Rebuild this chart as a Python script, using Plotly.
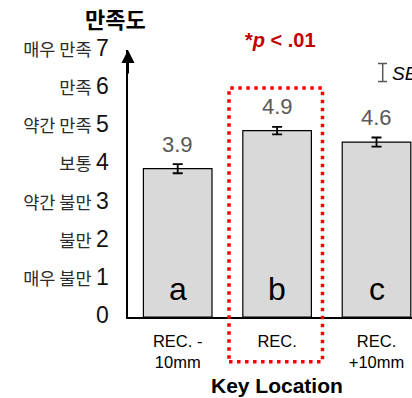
import plotly.graph_objects as go

categories = ["REC. -<br>10mm", "REC.", "REC.<br>+10mm"]
values = [3.9, 4.9, 4.6]
errors = [0.12, 0.10, 0.12]
bar_letters = ["a", "b", "c"]
value_labels = ["3.9", "4.9", "4.6"]
y_tickvals = [0, 1, 2, 3, 4, 5, 6, 7]
y_words = ["", "매우 불만", "불만", "약간 불만", "보통", "약간 만족", "만족", "매우 만족"]

W, H = 412, 398
PLOT_BOTTOM = 316.7  # px from top
L, R, T = 128, 0, 50
B = H - PLOT_BOTTOM
pw, ph = W - L - R, H - T - B

def px(x):
    return (x - L) / pw

def py(y):
    return (PLOT_BOTTOM - y) / ph

FONT = "Liberation Sans, Arial, Noto Sans CJK KR, sans-serif"
KFONT = "Noto Sans CJK KR"

ticktext = []
for v, w in zip(y_tickvals, y_words):
    num = f"<span style='font-size:23px'>{v}</span>"
    if w:
        ticktext.append(f"<span style='font-family:{KFONT};font-size:17.5px;color:#2b2b2b'>{w}</span> " + num)
    else:
        ticktext.append(num)

fig = go.Figure()
fig.add_trace(go.Bar(
    x=list(range(len(categories))), y=values,
    marker=dict(color="#D9D9D9", line=dict(color="#000000", width=1.2)),
    error_y=dict(type="data", array=errors, visible=True, color="#000000", thickness=1.8, width=5),
    width=0.69, showlegend=False, hoverinfo="skip",
))

annotations = []
for i, (v, e, lab) in enumerate(zip(values, errors, value_labels)):
    annotations.append(dict(x=i, y=v, xref="x", yref="y", text=lab, showarrow=False,
                            yanchor="bottom", yshift=10,
                            font=dict(family=FONT, size=22, color="#595959")))
for i, letter in enumerate(bar_letters):
    annotations.append(dict(x=i, y=0, xref="x", yref="y", text=letter, showarrow=False,
                            yanchor="bottom", yshift=8,
                            font=dict(family=FONT, size=32, color="#000000")))

# axis arrow
annotations.append(dict(x=0, y=7.02, xref="paper", yref="y", ax=0, ay=25, text="",
                        showarrow=True, arrowhead=2, arrowsize=1.3, arrowwidth=2, arrowcolor="#000000"))
annotations.append(dict(x=px(115), y=py(18), xref="paper", yref="paper", text="<b>만족도</b>",
                        showarrow=False, xanchor="center", yanchor="middle",
                        font=dict(family=KFONT, size=22, color="#000000")))
annotations.append(dict(x=px(280), y=py(40), xref="paper", yref="paper",
                        text="<b>*<i>p</i> < .01</b>", showarrow=False,
                        xanchor="center", yanchor="middle",
                        font=dict(family=FONT, size=20, color="#C00000")))
annotations.append(dict(x=px(277), y=py(385), xref="paper", yref="paper",
                        text="<b>Key Location</b>", showarrow=False,
                        xanchor="center", yanchor="middle",
                        font=dict(family=FONT, size=21, color="#000000")))
annotations.append(dict(x=px(390), y=py(73), xref="paper", yref="paper",
                        text="<i>SE</i>", showarrow=False,
                        xanchor="left", yanchor="middle",
                        font=dict(family=FONT, size=19, color="#000000")))

shapes = [
    dict(type="rect", xref="paper", yref="paper", x0=px(229), x1=px(322.5), y0=py(361.5), y1=py(88),
         line=dict(color="#FF0000", width=3.5, dash="3.5px,4.5px"), layer="above"),
    dict(type="line", xref="paper", yref="paper", x0=px(382.7), x1=px(382.7), y0=py(63.5), y1=py(81.5),
         line=dict(color="#595959", width=1.5)),
    dict(type="line", xref="paper", yref="paper", x0=px(378), x1=px(387), y0=py(63.5), y1=py(63.5),
         line=dict(color="#595959", width=1.5)),
    dict(type="line", xref="paper", yref="paper", x0=px(378), x1=px(387), y0=py(81.5), y1=py(81.5),
         line=dict(color="#595959", width=1.5)),
]

fig.update_layout(
    width=W, height=H,
    margin=dict(l=L, r=R, t=T, b=B, pad=0),
    paper_bgcolor="white", plot_bgcolor="white",
    font=dict(family=FONT, size=16, color="#111111"),
    bargap=0.31,
    xaxis=dict(tickmode="array", tickvals=list(range(len(categories))), ticktext=categories,
               range=[-0.5, 2.357], showline=True, linecolor="#000000", linewidth=2,
               showgrid=False, zeroline=False, ticks="", ticklabelstandoff=8,
               tickfont=dict(family=FONT, size=16.5, color="#000000")),
    yaxis=dict(tickmode="array", tickvals=y_tickvals, ticktext=ticktext,
               range=[0, 7.02], showline=True, linecolor="#000000", linewidth=2,
               showgrid=False, zeroline=False, ticks="", ticklabelstandoff=14,
               tickfont=dict(family=FONT, size=16, color="#111111")),
    annotations=annotations, shapes=shapes,
)

fig.write_html("out.html", config={"displayModeBar": False},
               post_script="document.body.style.margin='0px';document.body.style.overflow='hidden';")
